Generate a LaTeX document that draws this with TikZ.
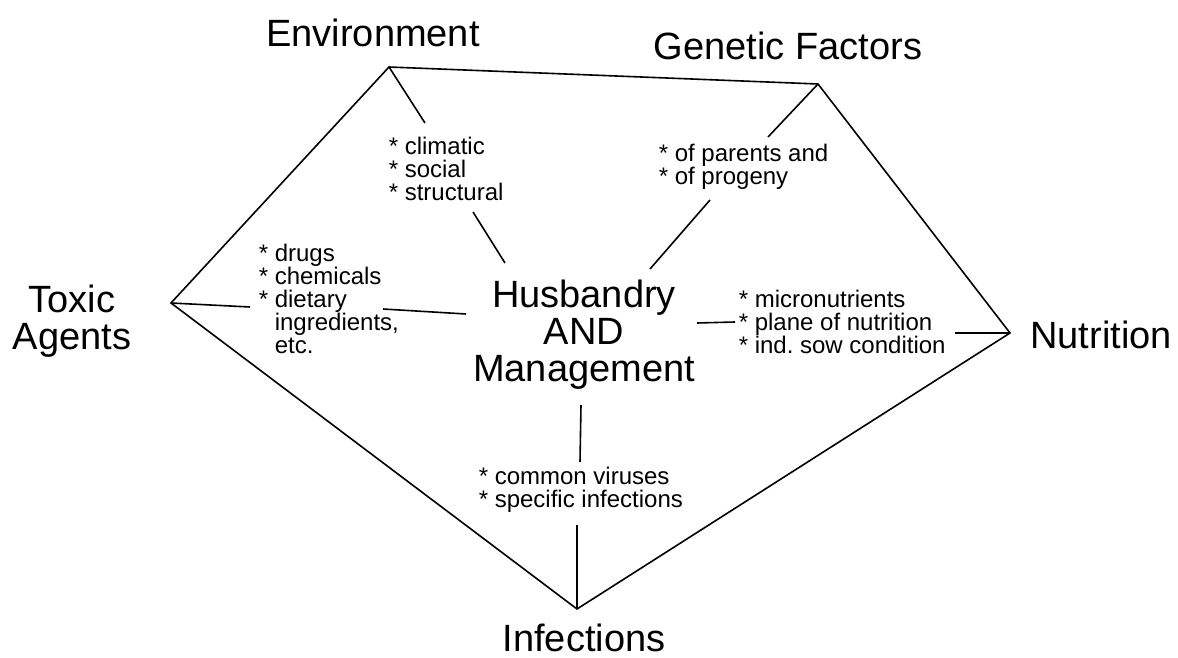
\documentclass[tikz,border=0pt]{standalone}
\usepackage{fontspec}
\setmainfont{Liberation Sans}

\begin{document}
\begin{tikzpicture}[
	x = 1pt, y = -1pt,
	line width = 1.6pt,
	factor/.style = {inner sep = 0pt, align = center, font = \fontsize{38}{37}\selectfont},
	items/.style = {inner sep = 0pt, anchor = west, align = left, font = \fontsize{24}{23}\selectfont}
	]
	\useasboundingbox (0,0) rectangle (1178,658);
	% corners
	\coordinate (envc) at (389,67);
	\coordinate (genc) at (818,84);
	\coordinate (nutc) at (1010,333);
	\coordinate (infc) at (577,609);
	\coordinate (toxc) at (171,303);
	% ends of the spokes
	\coordinate (env1) at (425,123);
	\coordinate (env2) at (473,212);
	\coordinate (env3) at (505,263);
	\coordinate (gen1) at (768,137);
	\coordinate (gen2) at (710,200);
	\coordinate (gen3) at (650,269);
	\coordinate (tox1) at (250,307);
	\coordinate (tox2) at (383,309);
	\coordinate (tox3) at (466,314);
	\coordinate (nut1) at (955,333);
	\coordinate (nut2) at (735,322);
	\coordinate (nut3) at (697,323);
	\coordinate (inf1) at (577,525);
	\coordinate (inf2) at (580,462);
	\coordinate (inf3) at (581,405);

	\node[factor] (env) at (373,33) {Environment};
	\node[factor] (gen) at (788,46) {Genetic Factors};
	\node[factor] (tox) at (72,321) {Toxic\\Agents};
	\node[factor] (nut) at (1101,335) {Nutrition};
	\node[factor] (inf) at (584,638) {Infections};
	\node[factor] (hub) at (584,335) {Husbandry\\AND\\Management};

	\node[items] (envlist) at (388,169) {* climatic\\* social\\* structural};
	\node[items] (genlist) at (658,167) {* of parents and\\* of progeny};
	\node[items] (toxlist) at (258,299) {* drugs\\* chemicals\\* dietary\\\phantom{* }ingredients,\\\phantom{* }etc.};
	\node[items] (nutlist) at (738,322) {* micronutrients\\* plane of nutrition\\* ind.\ sow condition};
	\node[items] (inflist) at (478,490) {* common viruses\\* specific infections};

	\draw (envc) -- (genc) -- (nutc) -- (infc) -- (toxc) -- cycle;
	\draw (envc) -- (env1);
	\draw (env2) -- (env3);
	\draw (genc) -- (gen1);
	\draw (gen2) -- (gen3);
	\draw (toxc) -- (tox1);
	\draw (tox2) -- (tox3);
	\draw (nutc) -- (nut1);
	\draw (nut2) -- (nut3);
	\draw (infc) -- (inf1);
	\draw (inf2) -- (inf3);
\end{tikzpicture}
\end{document}
